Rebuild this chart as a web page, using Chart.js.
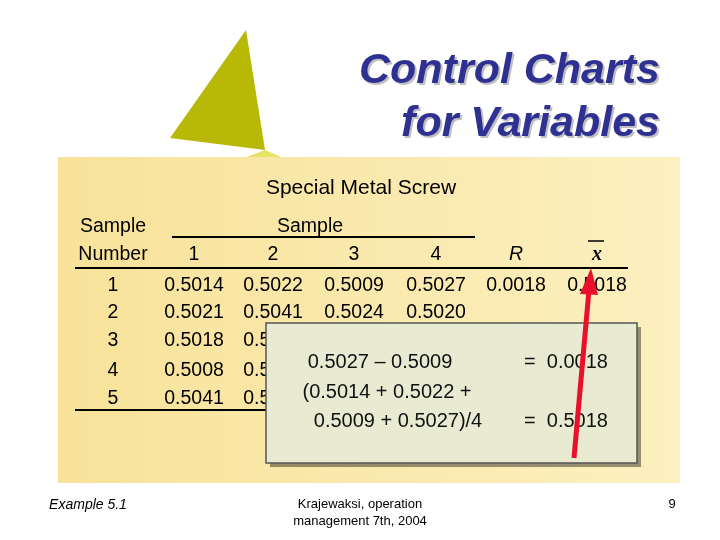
<!DOCTYPE html>
<html><head><meta charset="utf-8">
<script src="https://cdn.jsdelivr.net/npm/chart.js@4/dist/chart.umd.min.js"></script>
<style>html,body{margin:0;padding:0;background:#fff;}#wrap{position:relative;width:720px;height:540px;}</style>
</head><body><div id="wrap"><canvas id="c" width="720" height="540"></canvas></div>
<script>
const sampleNumbers=["1","2","3","4","5"];
const obs1=["0.5014","0.5021","0.5018","0.5008","0.5041"];
const obs2=["0.5022","0.5041","0.5026","0.5034","0.5056"];
const obs3=["0.5009","0.5024","0.5035","0.5024","0.5034"];
const obs4=["0.5027","0.5020","0.5023","0.5015","0.5047"];
const rangeVals=["0.0018","","","",""];
const meanVals=["0.5018","","","",""];
const colHeaders=["1","2","3","4","R","x"];
const calcLines=[["0.5027 – 0.5009","=  0.0018"],["(0.5014 + 0.5022 +",""],["0.5009 + 0.5027)/4","=  0.5018"]];

const slide={id:'slide',
beforeDraw(ch){const c=ch.ctx,X=ch.scales.x,Y=ch.scales.y;const p=(x,y)=>[X.getPixelForValue(x),Y.getPixelForValue(y)];
 c.save();c.fillStyle='#fff';c.fillRect(0,0,720,540);
 const poly=(pts,col)=>{c.beginPath();pts.forEach((q,i)=>{const [a,b]=p(q[0],q[1]);i?c.lineTo(a,b):c.moveTo(a,b);});c.closePath();c.fillStyle=col;c.fill();};
 poly([[265,150],[225,165],[300,165]],'#e6e466');
 poly([[246,30],[170,138],[265,150]],'#b8b806');
 const [bx,by]=p(58,157);const g=c.createLinearGradient(58,0,680,0);g.addColorStop(0,'#f8e29a');g.addColorStop(1,'#fcf0c0');
 c.fillStyle=g;c.fillRect(bx,by,622,326);
 c.restore();},
afterDraw(ch){const c=ch.ctx,X=ch.scales.x,Y=ch.scales.y;const px=v=>X.getPixelForValue(v),py=v=>Y.getPixelForValue(v);
 c.save();
 const txt=(s,x,y,font,col,al)=>{c.font=font;c.fillStyle=col||'#000';c.textAlign=al||'center';c.textBaseline='middle';c.fillText(s,px(x),py(y));};
 c.shadowColor='rgba(0,0,0,0.25)';c.shadowOffsetX=2;c.shadowOffsetY=2;
 txt('Control Charts',660,71,'italic bold 43px "Liberation Sans"','#2e3192','right');
 txt('for Variables',660,124,'italic bold 43px "Liberation Sans"','#2e3192','right');
 c.shadowColor='transparent';
 const F='19.5px "Liberation Sans"';
 txt('Special Metal Screw',361,188,'21px "Liberation Sans"');
 txt('Sample',113,227,F);txt('Number',113,255,F);txt('Sample',310,227,F);
 const cx=[194,273,354,436,516,597];
 colHeaders.forEach((h,i)=>txt(h,cx[i],255,(i>=4?'italic ':'')+(i==5?'bold 20px "Liberation Serif"':F)));
 c.strokeStyle='#000';c.lineWidth=1.5;c.beginPath();c.moveTo(px(588),py(241));c.lineTo(px(604),py(241));c.stroke();
 c.lineWidth=2;const ln=(x1,x2,y)=>{c.beginPath();c.moveTo(px(x1),py(y));c.lineTo(px(x2),py(y));c.stroke();};
 ln(172,475,237);ln(75,628,268);ln(75,475,410);
 const ry=[286,313,341,371,399];
 sampleNumbers.forEach((n,i)=>{txt(n,113,ry[i],F);[obs1,obs2,obs3,obs4,rangeVals,meanVals].forEach((a,j)=>txt(a[i],cx[j],ry[i],F));});
 c.shadowColor='rgba(0,0,0,0.4)';c.shadowOffsetX=4;c.shadowOffsetY=4;c.fillStyle='#e9ead2';c.fillRect(px(266),py(323),371,140);
 c.shadowColor='transparent';c.strokeStyle='#555';c.lineWidth=1.5;c.strokeRect(px(266),py(323),371,140);
 const B='20px "Liberation Sans"';
 txt(calcLines[0][0],380,362,B,'#111');txt(calcLines[0][1],566,362,B,'#111');
 txt(calcLines[1][0],387,392,B,'#111');
 txt(calcLines[2][0],398,421,B,'#111');txt(calcLines[2][1],566,421,B,'#111');
 c.strokeStyle='#e8102a';c.fillStyle='#e8102a';c.lineWidth=5;c.beginPath();c.moveTo(px(574),py(458));c.lineTo(px(589),py(290));c.stroke();
 c.beginPath();c.moveTo(px(591),py(268));c.lineTo(px(580),py(294));c.lineTo(px(598),py(295));c.closePath();c.fill();
 txt('Example 5.1',88,505,'italic 14px "Liberation Sans"');
 txt('Krajewaksi, operation',360,504,'13px "Liberation Sans"');txt('management 7th, 2004',360,521,'13px "Liberation Sans"');
 txt('9',672,504,'13px "Liberation Sans"');
 c.restore();}};

new Chart(document.getElementById('c'),{type:'scatter',data:{datasets:[{data:[],pointRadius:0}]},
options:{responsive:false,animation:false,layout:{padding:0},plugins:{legend:{display:false},tooltip:{enabled:false}},
scales:{x:{type:'linear',min:0,max:720,display:false},y:{type:'linear',min:0,max:540,reverse:true,display:false}}},plugins:[slide]});
</script></body></html>
